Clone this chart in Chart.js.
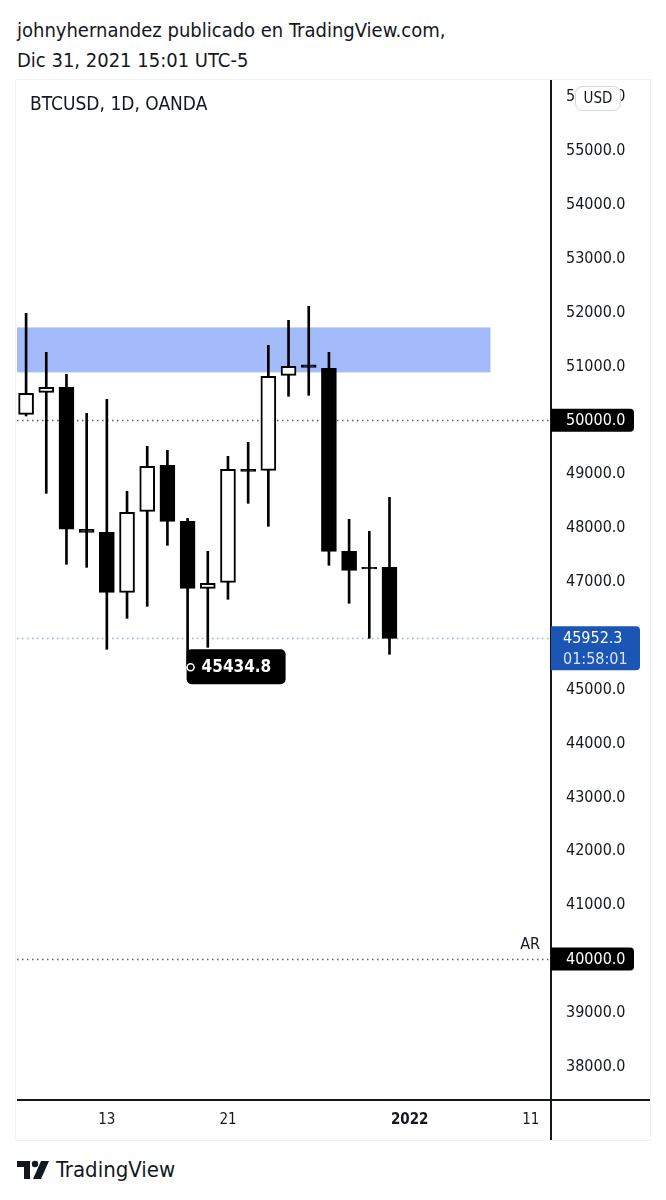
<!DOCTYPE html>
<html>
<head>
<meta charset="utf-8">
<script src="https://cdn.jsdelivr.net/npm/chart.js@4.4.0/dist/chart.umd.min.js"></script>
<style>
  body { margin: 0; background: #fff; width: 666px; height: 1200px; position: relative; overflow: hidden;
         font-family: "DejaVu Sans Condensed", "DejaVu Sans", sans-serif; color: #131722; }
  #cabecera { position: absolute; left: 17px; top: 15px; font-size: 20px; line-height: 30px; }
  #marco { position: absolute; left: 16px; top: 80px; width: 634px; height: 1060px; outline: 1px solid #f0f3fa; }
  #titulo { position: absolute; left: 30px; top: 92px; font-size: 19px; }
  #logo { position: absolute; left: 17px; top: 1157px; display: flex; align-items: center; font-size: 22px; }
  #logo svg { margin-right: 7px; }
</style>
</head>
<body>
<div id="cabecera">johnyhernandez publicado en TradingView.com,<br>Dic 31, 2021 15:01 UTC-5</div>
<div id="marco"><canvas id="grafico" width="634" height="1060"></canvas></div>
<div id="titulo">BTCUSD, 1D, OANDA</div>
<div id="logo">
  <svg width="32" height="22" viewBox="0 0 32 22">
    <path d="M0 2h13v18H7V8H0z" fill="#131722"/>
    <circle cx="18" cy="5" r="3.2" fill="#131722"/>
    <path d="M24 2h8l-8 18h-8z" fill="#131722"/>
  </svg>
  TradingView
</div>
<script>
// Días hábiles mostrados en el eje X
const dias = ['Dec 7','Dec 8','Dec 9','Dec 10','Dec 13','Dec 14','Dec 15','Dec 16','Dec 17','Dec 20',
              'Dec 21','Dec 22','Dec 23','Dec 24','Dec 27','Dec 28','Dec 29','Dec 30','Dec 31',
              'Jan 3','Jan 4','Jan 5','Jan 6','Jan 7','Jan 10','Jan 11'];

// Velas (OHLC)
const apertura = [50110, 50520, 50613, 47977, 47920, 46807, 48311, 49165, 48125, 46881,
                  46993, 49090, 49072, 50835, 51030, 50965, 47568, 47270, 47271];
const maximo   = [51986, 51262, 50854, 50130, 50390, 48682, 49517, 49443, 48181, 47568,
                  49332, 49592, 51392, 51856, 52116, 51262, 48162, 47940, 48570];
const minimo   = [50080, 48645, 47327, 47271, 45749, 46324, 46547, 47680, 45434.8, 45786,
                  46677, 48459, 48032, 50446, 50464, 47308, 46603, 45953, 45656];
const cierre   = [50501, 50613, 47977, 47920, 46807, 48292, 49146, 48125, 46881, 46974,
                  49090, 49050, 50817, 51002, 50980, 47568, 47215, 47240, 45952.3];

// Etiquetas de los ejes
const diasEtiqueta = ['Dec 13', 'Dec 21', 'Jan 3', 'Jan 11'];
const etiquetasX = ['13', '21', '2022', '11'];
const preciosEje = [38000, 39000, 40000, 41000, 42000, 43000, 44000, 45000, 46000,
                    47000, 48000, 49000, 50000, 51000, 52000, 53000, 54000, 55000, 56000];

// Dibujos sobre el gráfico
const zona = [50890, 51725];
const zonaHasta = 'Jan 7';
const nivelesPunteados = [50000, 40000];
const etiquetaNivel = 'AR';
const precioActual = 45952.3;
const cuentaRegresiva = '01:58:01';
const minimoMarcado = 45434.8;

const fuente = '"DejaVu Sans Condensed", "DejaVu Sans", sans-serif';
Chart.defaults.font.family = fuente;

function cajaRedonda(ctx, x, y, w, h, r) {
    ctx.beginPath();
    if (ctx.roundRect) ctx.roundRect(x, y, w, h, r); else ctx.rect(x, y, w, h);
    ctx.fill();
}

const dibujos = {
    id: 'dibujos',
    beforeDatasetsDraw(chart) {
        const { ctx, chartArea: a, scales: { x, y } } = chart;
        ctx.save();
        // zona azul
        const yArriba = y.getPixelForValue(zona[1]);
        const yAbajo = y.getPixelForValue(zona[0]);
        ctx.fillStyle = '#a3bbfb';
        ctx.fillRect(a.left, yArriba, x.getPixelForValue(dias.indexOf(zonaHasta)) - a.left, yAbajo - yArriba);
        // líneas punteadas
        ctx.setLineDash([1.5, 3.5]);
        ctx.lineWidth = 1.3;
        ctx.strokeStyle = '#5d606b';
        nivelesPunteados.forEach(v => {
            const py = Math.round(y.getPixelForValue(v)) + 0.5;
            ctx.beginPath(); ctx.moveTo(a.left, py); ctx.lineTo(a.right, py); ctx.stroke();
        });
        ctx.strokeStyle = '#8fb2e6';
        const pa = Math.round(y.getPixelForValue(precioActual)) + 0.5;
        ctx.beginPath(); ctx.moveTo(a.left, pa); ctx.lineTo(a.right, pa); ctx.stroke();
        ctx.restore();
    },
    afterDraw(chart) {
        const { ctx, chartArea: a, scales: { x, y } } = chart;
        ctx.save();
        // ejes
        ctx.strokeStyle = '#131722';
        ctx.lineWidth = 2;
        ctx.beginPath();
        ctx.moveTo(a.right, 0); ctx.lineTo(a.right, chart.height);
        ctx.moveTo(a.left, a.bottom); ctx.lineTo(chart.width, a.bottom);
        ctx.stroke();

        ctx.textBaseline = 'middle';
        ctx.textAlign = 'left';
        // etiquetas negras de niveles
        nivelesPunteados.forEach(v => {
            const py = y.getPixelForValue(v);
            ctx.fillStyle = '#000';
            cajaRedonda(ctx, a.right, py - 11.5, 83, 23, [0, 4, 4, 0]);
            ctx.fillStyle = '#fff';
            ctx.font = '16px ' + fuente;
            ctx.fillText(v.toFixed(1), a.right + 15, py + 1);
        });
        // texto AR
        const py40 = y.getPixelForValue(nivelesPunteados[1]);
        ctx.fillStyle = '#131722';
        ctx.font = '16px ' + fuente;
        ctx.textAlign = 'right';
        ctx.fillText(etiquetaNivel, a.right - 11, py40 - 14);
        ctx.textAlign = 'left';

        // precio actual
        const pa = y.getPixelForValue(precioActual);
        ctx.fillStyle = '#1b56b5';
        cajaRedonda(ctx, a.right, pa - 12, 89, 44, [0, 4, 4, 0]);
        ctx.fillStyle = '#fff';
        ctx.fillText(precioActual.toFixed(1), a.right + 12, pa);
        ctx.fillStyle = '#d8e4f7';
        ctx.fillText(cuentaRegresiva, a.right + 12, pa + 21);

        // marca del mínimo
        const iMin = minimo.indexOf(minimoMarcado);
        const mx = x.getPixelForValue(iMin);
        const my = y.getPixelForValue(minimoMarcado);
        ctx.fillStyle = '#000';
        cajaRedonda(ctx, mx - 1, my - 17, 99, 35, 5);
        ctx.strokeStyle = '#fff';
        ctx.lineWidth = 1.5;
        ctx.beginPath(); ctx.arc(mx + 3, my + 1, 3.5, 0, Math.PI * 2); ctx.stroke();
        ctx.fillStyle = '#fff';
        ctx.font = 'bold 17px ' + fuente;
        ctx.fillText(minimoMarcado.toFixed(1), mx + 14, my + 1);

        // insignia USD
        ctx.fillStyle = '#fff';
        cajaRedonda(ctx, a.right + 24, 6, 46, 25, 7);
        ctx.strokeStyle = '#d1d4dc';
        ctx.lineWidth = 1;
        ctx.beginPath();
        if (ctx.roundRect) ctx.roundRect(a.right + 24.5, 6.5, 45, 24, 7); else ctx.rect(a.right + 24.5, 6.5, 45, 24);
        ctx.stroke();
        ctx.fillStyle = '#131722';
        ctx.font = '15px ' + fuente;
        ctx.textAlign = 'center';
        ctx.fillText('USD', a.right + 47, 19);
        ctx.restore();
    }
};

const velas = apertura.map((o, i) => ({ x: i, y: [o, cierre[i]] }));
const mechas = maximo.map((h, i) => ({ x: i, y: [minimo[i], h] }));

const ctx = document.getElementById('grafico').getContext('2d');
new Chart(ctx, {
    type: 'bar',
    data: {
        datasets: [{
            label: 'cuerpo',
            data: velas,
            order: 1,
            grouped: false,
            barThickness: 15,
            borderWidth: 2,
            borderColor: '#000',
            borderSkipped: false,
            backgroundColor: c => cierre[c.dataIndex] >= apertura[c.dataIndex] ? '#fff' : '#000'
        }, {
            label: 'mecha',
            data: mechas,
            order: 2,
            grouped: false,
            barThickness: 2,
            borderWidth: 0,
            backgroundColor: '#000'
        }]
    },
    options: {
        responsive: false,
        animation: false,
        layout: { padding: { left: 1 } },
        plugins: { legend: { display: false }, tooltip: { enabled: false } },
        scales: {
            x: {
                type: 'linear',
                min: -0.45,
                max: 26,
                offset: false,
                grid: { display: false, drawTicks: false },
                border: { display: false },
                afterBuildTicks: s => { s.ticks = diasEtiqueta.map(d => ({ value: dias.indexOf(d) })); },
                afterFit: s => { s.height = 40; s.paddingLeft = 0; s.paddingRight = 0; },
                ticks: {
                    autoSkip: false,
                    maxRotation: 0,
                    padding: 11,
                    color: '#131722',
                    font: c => ({ size: 15, weight: (c.tick && dias[c.tick.value] === 'Jan 3') ? 'bold' : 'normal' }),
                    callback: v => etiquetasX[diasEtiqueta.indexOf(dias[v])] || ''
                }
            },
            y: {
                position: 'right',
                min: 37382,
                max: 56318,
                beginAtZero: false,
                grid: { display: false, drawTicks: false },
                border: { display: false },
                afterBuildTicks: s => { s.ticks = preciosEje.map(v => ({ value: v })); },
                afterFit: s => { s.width = 99; s.paddingTop = 0; s.paddingBottom = 0; },
                ticks: {
                    padding: 15,
                    color: '#131722',
                    font: { size: 16 },
                    callback: v => v.toFixed(1)
                }
            }
        }
    },
    plugins: [dibujos]
});
</script>
</body>
</html>
